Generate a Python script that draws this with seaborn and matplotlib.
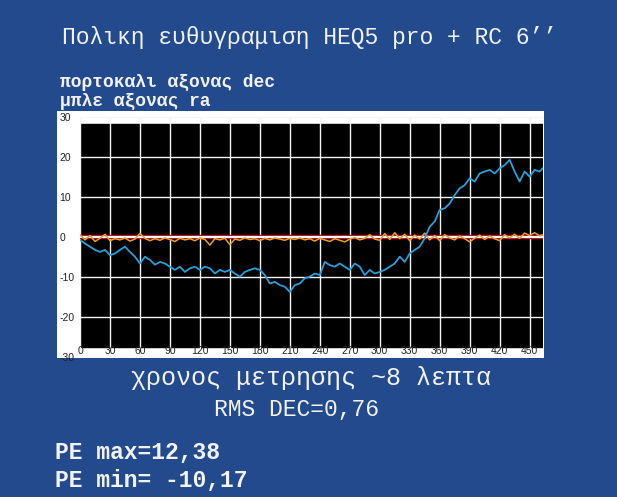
import matplotlib
matplotlib.use("Agg")
import matplotlib.pyplot as plt
from matplotlib.patches import Rectangle
import seaborn as sns

# guiding log (x = seconds, y = error)
seconds = [0, 5, 10, 15, 20, 25, 30, 35, 40, 45, 50, 55, 60, 65, 70, 75, 80, 85, 90, 95,
           100, 105, 110, 115, 120, 125, 130, 135, 140, 145, 150, 155, 160, 165, 170, 175,
           180, 185, 190, 195, 200, 205, 210, 215, 220, 225, 230, 235, 240, 245, 250, 255,
           260, 265, 270, 275, 280, 285, 290, 295, 300, 305, 310, 315, 320, 325, 330, 335,
           340, 345, 350, 355, 360, 365, 370, 375, 380, 385, 390, 395, 400, 405, 410, 415,
           420, 425, 430, 435, 440, 445, 450, 455, 460, 463]

ra_error = [-0.8, -1.7, -2.5, -3.3, -3.8, -3.3, -4.6, -4.2, -3.3, -2.5, -3.8, -5.0, -6.7, -5.0,
            -5.8, -7.0, -6.3, -6.7, -7.5, -8.3, -7.5, -8.8, -7.9, -7.5, -8.3, -7.5, -7.9, -9.2,
            -8.3, -8.8, -8.3, -9.2, -10.0, -8.8, -8.3, -7.9, -8.3, -9.6, -11.7, -11.3, -12.1,
            -12.5, -13.8, -12.1, -11.7, -10.4, -10.0, -9.2, -9.6, -6.3, -7.1, -7.5, -6.7, -7.5,
            -8.3, -6.7, -7.5, -9.6, -8.3, -9.2, -8.8, -8.3, -7.5, -6.7, -5.0, -6.3, -4.2, -3.3,
            -2.5, -0.4, 2.5, 3.8, 6.7, 7.1, 8.3, 10.4, 12.1, 12.9, 14.6, 13.8, 15.8, 16.3, 16.7,
            15.8, 17.1, 17.9, 19.2, 16.3, 13.8, 16.3, 15.0, 16.7, 16.3, 17.1]

dec_error = [0.5, -0.8, 0.3, -1.2, -0.4, 0.6, -1.0, -0.5, -0.8, -0.3, -1.1, -0.6, 0.8, -0.4,
             -1.0, -0.5, -0.9, -0.3, -0.7, -1.2, -0.4, -0.8, -0.5, -1.0, -0.3, -0.7, -2.1, -0.5,
             -0.8, -0.4, -2.0, -0.6, -0.9, -0.3, -0.7, -0.5, -1.0, -0.4, -0.8, -0.3, -0.6, -0.9,
             -0.4, -0.7, -0.3, -0.8, -0.5, -1.1, -0.4, -0.8, -1.2, -0.5, -0.9, -1.3, -0.6, -0.2,
             -0.8, -0.4, 0.5, -0.6, -0.9, 0.8, -0.7, 1.0, -0.5, 0.6, -1.0, 0.4, -0.6, 0.9, -0.8,
             0.3, -1.0, 0.5, -0.3, -0.8, 0.2, -0.5, -1.3, -0.4, 0.4, -0.7, 0.2, -0.5, -1.0, 0.5,
             -0.3, 0.6, -0.4, 0.9, 0.3, 1.0, 0.2, 0.5]

x_ticks = list(range(0, 451, 30))
y_ticks = [-30, -20, -10, 0, 10, 20, 30]

BG = "#234a8c"
TXT = "#f2f2f2"
MONO = ["Liberation Mono", "DejaVu Sans Mono"]

sns.set_style("white")
plt.rcParams["axes.unicode_minus"] = False

W, H = 617, 497
fig = plt.figure(figsize=(W / 100, H / 100), dpi=100, facecolor=BG)


def fx(px):
    return px / W


def fy(py):
    return 1 - py / H


# white panel behind the chart
fig.patches.append(Rectangle((fx(57), fy(358)), fx(544) - fx(57), fy(111) - fy(358),
                             transform=fig.transFigure, facecolor="white",
                             edgecolor="none", zorder=-5))

ax = fig.add_axes([fx(80), fy(356.7), fx(543) - fx(80), fy(116.7) - fy(356.7)])
ax.set_zorder(1)
ax.set_facecolor("white")
ax.set_xlim(0, 463.4)
ax.set_ylim(-30, 30)

# black plotting area (slightly inset from the +/-30 labels)
ax.axhspan(-27.6, 28.2, color="black", zorder=0.1)

ax.set_axisbelow(True)
ax.set_xticks(x_ticks)
ax.set_yticks(y_ticks)
ax.grid(True, color="#f4f4f4", lw=1.0)
for s in ax.spines.values():
    s.set_visible(False)

ax.axhline(0, color="#b81428", lw=3.2, zorder=1.5)
ax.axhline(0, color="#ffffff", lw=1.4, zorder=1.6)

sns.lineplot(x=seconds, y=dec_error, ax=ax, color="#e8a030", lw=1.1, zorder=2)
sns.lineplot(x=seconds, y=ra_error, ax=ax, color="#2a9fd8", lw=1.3, zorder=3)

ax.set_xlabel("")
ax.set_ylabel("")
ax.tick_params(axis="both", length=0, labelsize=7.5, labelcolor="#222222")
ax.tick_params(axis="x", pad=-8)
ax.tick_params(axis="y", pad=15)
for lab in ax.get_yticklabels():
    lab.set_horizontalalignment("left")
for lab in ax.get_xticklabels() + ax.get_yticklabels():
    lab.set_fontfamily(["Liberation Sans", "DejaVu Sans"])

# texts around the chart
fig.text(fx(62), fy(44), "Πολικη ευθυγραμιση HEQ5 pro + RC 6’’", color=TXT,
         family=MONO, fontsize=16.6, va="baseline", ha="left")
fig.text(fx(60), fy(87), "πορτοκαλι αξονας dec", color=TXT, family=MONO,
         fontsize=13, fontweight="bold", va="baseline", ha="left")
fig.text(fx(60), fy(106), "μπλε αξονας ra", color=TXT, family=MONO,
         fontsize=13, fontweight="bold", va="baseline", ha="left")
fig.text(fx(311), fy(385), "χρονος μετρησης ~8 λεπτα", color=TXT, family=MONO,
         fontsize=18, va="baseline", ha="center")
fig.text(fx(297), fy(416), "RMS DEC=0,76", color=TXT, family=MONO,
         fontsize=16.6, va="baseline", ha="center")
fig.text(fx(55), fy(459), "PE max=12,38", color=TXT, family=MONO,
         fontsize=16.6, fontweight="bold", va="baseline", ha="left")
fig.text(fx(55), fy(487), "PE min= -10,17", color=TXT, family=MONO,
         fontsize=16.6, fontweight="bold", va="baseline", ha="left")

fig.savefig("out.png", dpi=100, facecolor=BG)
